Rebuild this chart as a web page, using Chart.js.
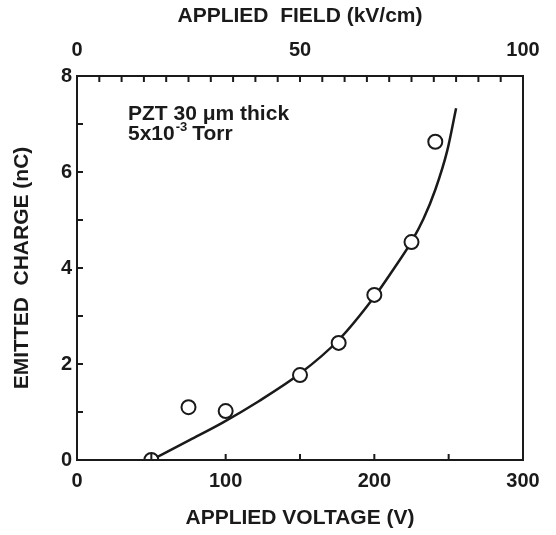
<!DOCTYPE html>
<html>
<head>
<meta charset="utf-8">
<script src="https://cdn.jsdelivr.net/npm/chart.js@4"></script>
<style>
  html, body { margin: 0; padding: 0; background: #fff; }
  #wrap { width: 556px; height: 535px; }
</style>
</head>
<body>
<div id="wrap"><canvas id="chart"></canvas></div>
<script>
// measured points (applied voltage V, emitted charge nC)
const voltage = [50, 75, 100, 150, 176, 200, 225, 241];
const charge = [0, 1.1, 1.02, 1.77, 2.44, 3.44, 4.54, 6.63];

// fitted curve
const fitVoltage = [50, 76, 98, 122, 150, 176, 200, 213, 225, 233, 241, 249, 255];
const fitCharge = [0, 0.42, 0.78, 1.22, 1.8, 2.5, 3.4, 3.98, 4.55, 5.02, 5.63, 6.44, 7.33];

const bottomLabels = [0, 100, 200, 300];
const topLabels = [0, 50, 100];
const leftLabels = [0, 2, 4, 6, 8];

const font = "'Liberation Sans', Arial, Helvetica, sans-serif";
const ink = '#1a1a1a';

// draws inward tick marks, the frame and the note text
const frameAndTicks = {
    id: 'frameAndTicks',
    afterDraw(chart) {
        const ctx = chart.ctx;
        const area = chart.chartArea;
        const x = chart.scales.x;
        const x2 = chart.scales.x2;
        const y = chart.scales.y;
        ctx.save();
        ctx.strokeStyle = ink;
        ctx.lineWidth = 2;
        ctx.strokeRect(area.left, area.top, area.right - area.left, area.bottom - area.top);

        ctx.lineWidth = 2;
        ctx.beginPath();
        for (let v = 50; v < 300; v += 50) {
            const px = x.getPixelForValue(v);
            ctx.moveTo(px, area.bottom);
            ctx.lineTo(px, area.bottom - 6);
        }
        for (let v = 5; v < 100; v += 5) {
            const px = x2.getPixelForValue(v);
            ctx.moveTo(px, area.top);
            ctx.lineTo(px, area.top + 6);
        }
        for (let v = 1; v < 8; v += 1) {
            const py = y.getPixelForValue(v);
            ctx.moveTo(area.left, py);
            ctx.lineTo(area.left + 6, py);
        }
        ctx.stroke();

        // note
        ctx.fillStyle = ink;
        ctx.textBaseline = 'alphabetic';
        ctx.font = 'bold 21px ' + font;
        const nx = area.left + 51;
        ctx.fillText('PZT 30 \u03bcm thick', nx, area.top + 44);
        let tx = nx;
        ctx.fillText('5x10', tx, area.top + 64);
        tx += ctx.measureText('5x10').width;
        ctx.font = 'bold 13px ' + font;
        ctx.fillText('-3', tx + 1, area.top + 55);
        tx += ctx.measureText('-3').width + 6;
        ctx.font = 'bold 21px ' + font;
        ctx.fillText('Torr', tx, area.top + 64);
        ctx.restore();
    }
};

new Chart(document.getElementById('chart'), {
    type: 'scatter',
    data: {
        datasets: [
            {
                label: 'fit',
                type: 'line',
                data: fitVoltage.map((v, i) => ({ x: v, y: fitCharge[i] })),
                borderColor: ink,
                borderWidth: 2.5,
                pointRadius: 0,
                cubicInterpolationMode: 'monotone',
                fill: false,
                order: 2
            },
            {
                label: 'measured',
                data: voltage.map((v, i) => ({ x: v, y: charge[i] })),
                pointStyle: 'circle',
                pointRadius: 7,
                pointBorderWidth: 2,
                pointBackgroundColor: '#fff',
                pointBorderColor: ink,
                order: 1
            }
        ]
    },
    options: {
        responsive: true,
        maintainAspectRatio: false,
        animation: false,
        layout: { padding: { left: 0, right: 33, top: 0, bottom: 0 } },
        plugins: {
            legend: { display: false },
            tooltip: { enabled: false }
        },
        scales: {
            x: {
                type: 'linear',
                position: 'bottom',
                min: 0,
                max: 300,
                afterFit: s => { s.height = 75; },
                afterBuildTicks: s => { s.ticks = bottomLabels.map(v => ({ value: v })); },
                grid: { display: false, drawTicks: false },
                border: { display: false },
                ticks: {
                    color: ink,
                    padding: 9,
                    maxRotation: 0,
                    font: { family: font, size: 20, weight: 'bold' }
                },
                title: {
                    display: true,
                    text: 'APPLIED VOLTAGE (V)',
                    color: ink,
                    padding: { top: 4, bottom: 4 },
                    font: { family: font, size: 21, weight: 'bold' }
                }
            },
            x2: {
                type: 'linear',
                position: 'top',
                min: 0,
                max: 100,
                afterFit: s => { s.height = 76; },
                afterBuildTicks: s => { s.ticks = topLabels.map(v => ({ value: v })); },
                grid: { display: false, drawTicks: false },
                border: { display: false },
                ticks: {
                    color: ink,
                    padding: 14,
                    maxRotation: 0,
                    font: { family: font, size: 20, weight: 'bold' }
                },
                title: {
                    display: true,
                    text: 'APPLIED  FIELD (kV/cm)',
                    color: ink,
                    padding: { top: 4, bottom: 4 },
                    font: { family: font, size: 21, weight: 'bold' }
                }
            },
            y: {
                type: 'linear',
                position: 'left',
                min: 0,
                max: 8,
                afterFit: s => { s.width = 77; },
                afterBuildTicks: s => { s.ticks = leftLabels.map(v => ({ value: v })); },
                grid: { display: false, drawTicks: false },
                border: { display: false },
                ticks: {
                    color: ink,
                    padding: 5,
                    font: { family: font, size: 20, weight: 'bold' }
                },
                title: {
                    display: true,
                    text: 'EMITTED  CHARGE (nC)',
                    color: ink,
                    padding: { top: 10, bottom: 4 },
                    font: { family: font, size: 21, weight: 'bold' }
                }
            }
        }
    },
    plugins: [frameAndTicks]
});
</script>
</body>
</html>
